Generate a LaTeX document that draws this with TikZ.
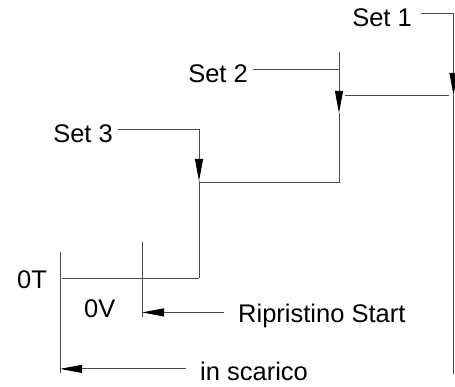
\documentclass[tikz,border=0pt]{standalone}
\usepackage{fontspec}
\setmainfont{Liberation Sans}
\usetikzlibrary{arrows.meta}

\tikzset{
  lbl/.style={inner sep=0pt, font=\fontsize{25.5}{30}\selectfont},
  wire/.style={draw=black!70, line width=0.9pt},
  pointer/.style={wire, -{Triangle[length=22pt,width=8pt]}, arrows={[black]}},
}

\begin{document}
\begin{tikzpicture}[x=1pt, y=-1pt]
    \useasboundingbox (0,0) rectangle (455,387);

    % Set points
    \node[lbl, anchor=base east] (set1) at (412,27) {Set 1};
    \node[lbl, anchor=base east] (set2) at (248,83) {Set 2};
    \node[lbl, anchor=base east] (set3) at (113,143) {Set 3};

    \coordinate (t1) at (453.5,95);
    \coordinate (b1) at (453.5,374);
    \coordinate (top2) at (339,52);
    \coordinate (t2) at (339,113);
    \coordinate (b2) at (339,182);
    \coordinate (t3) at (199,181);
    \coordinate (b3) at (199,278);
    \coordinate (e1) at ([xshift=9pt,yshift=5pt]set1.east);
    \coordinate (e2) at ([xshift=5pt,yshift=5pt]set2.east);
    \coordinate (e3) at ([xshift=5pt,yshift=5pt]set3.east);

    % Set 1 step
    \draw[pointer] (e1) -| (t1);
    \draw[wire] (t1) -- (b1);
    \draw[wire] ([xshift=-5pt]t1) -- ([xshift=6pt]t1 -| t2);

    % Set 2 step
    \draw[wire] (e2) -- (e2 -| top2);
    \draw[pointer] (top2) -- (t2);
    \draw[wire] (t2) -- (b2) -- (b2 -| t3);

    % Set 3 step
    \draw[pointer] (e3) -| (t3);
    \draw[wire] (t3) -- (b3);

    % zero levels
    \node[lbl, anchor=base west] (zt) at (17,288) {0T};
    \node[lbl, anchor=base west] (zv) at (84,317) {0V};
    \coordinate (topT) at (60,252);
    \coordinate (botT) at (60,373);
    \coordinate (topV) at (142,242);
    \coordinate (botV) at (142,317);
    \draw[wire] (topT) -- (botT);
    \draw[wire] (topV) -- (botV);
    \draw[wire] (b3) -- ([xshift=2pt]b3 -| topT);

    % Ripristino and scarico
    \node[lbl, anchor=base west] (rip) at (238,323) {Ripristino Start};
    \node[lbl, anchor=base west] (sca) at (200,380) {in scarico};
    \draw[pointer] ([xshift=-14pt,yshift=4pt]rip.west) -- ([yshift=4pt]rip.west -| topV);
    \draw[pointer] ([xshift=-14pt,yshift=2pt]sca.west) -- ([yshift=2pt]sca.west -| topT);
\end{tikzpicture}
\end{document}
